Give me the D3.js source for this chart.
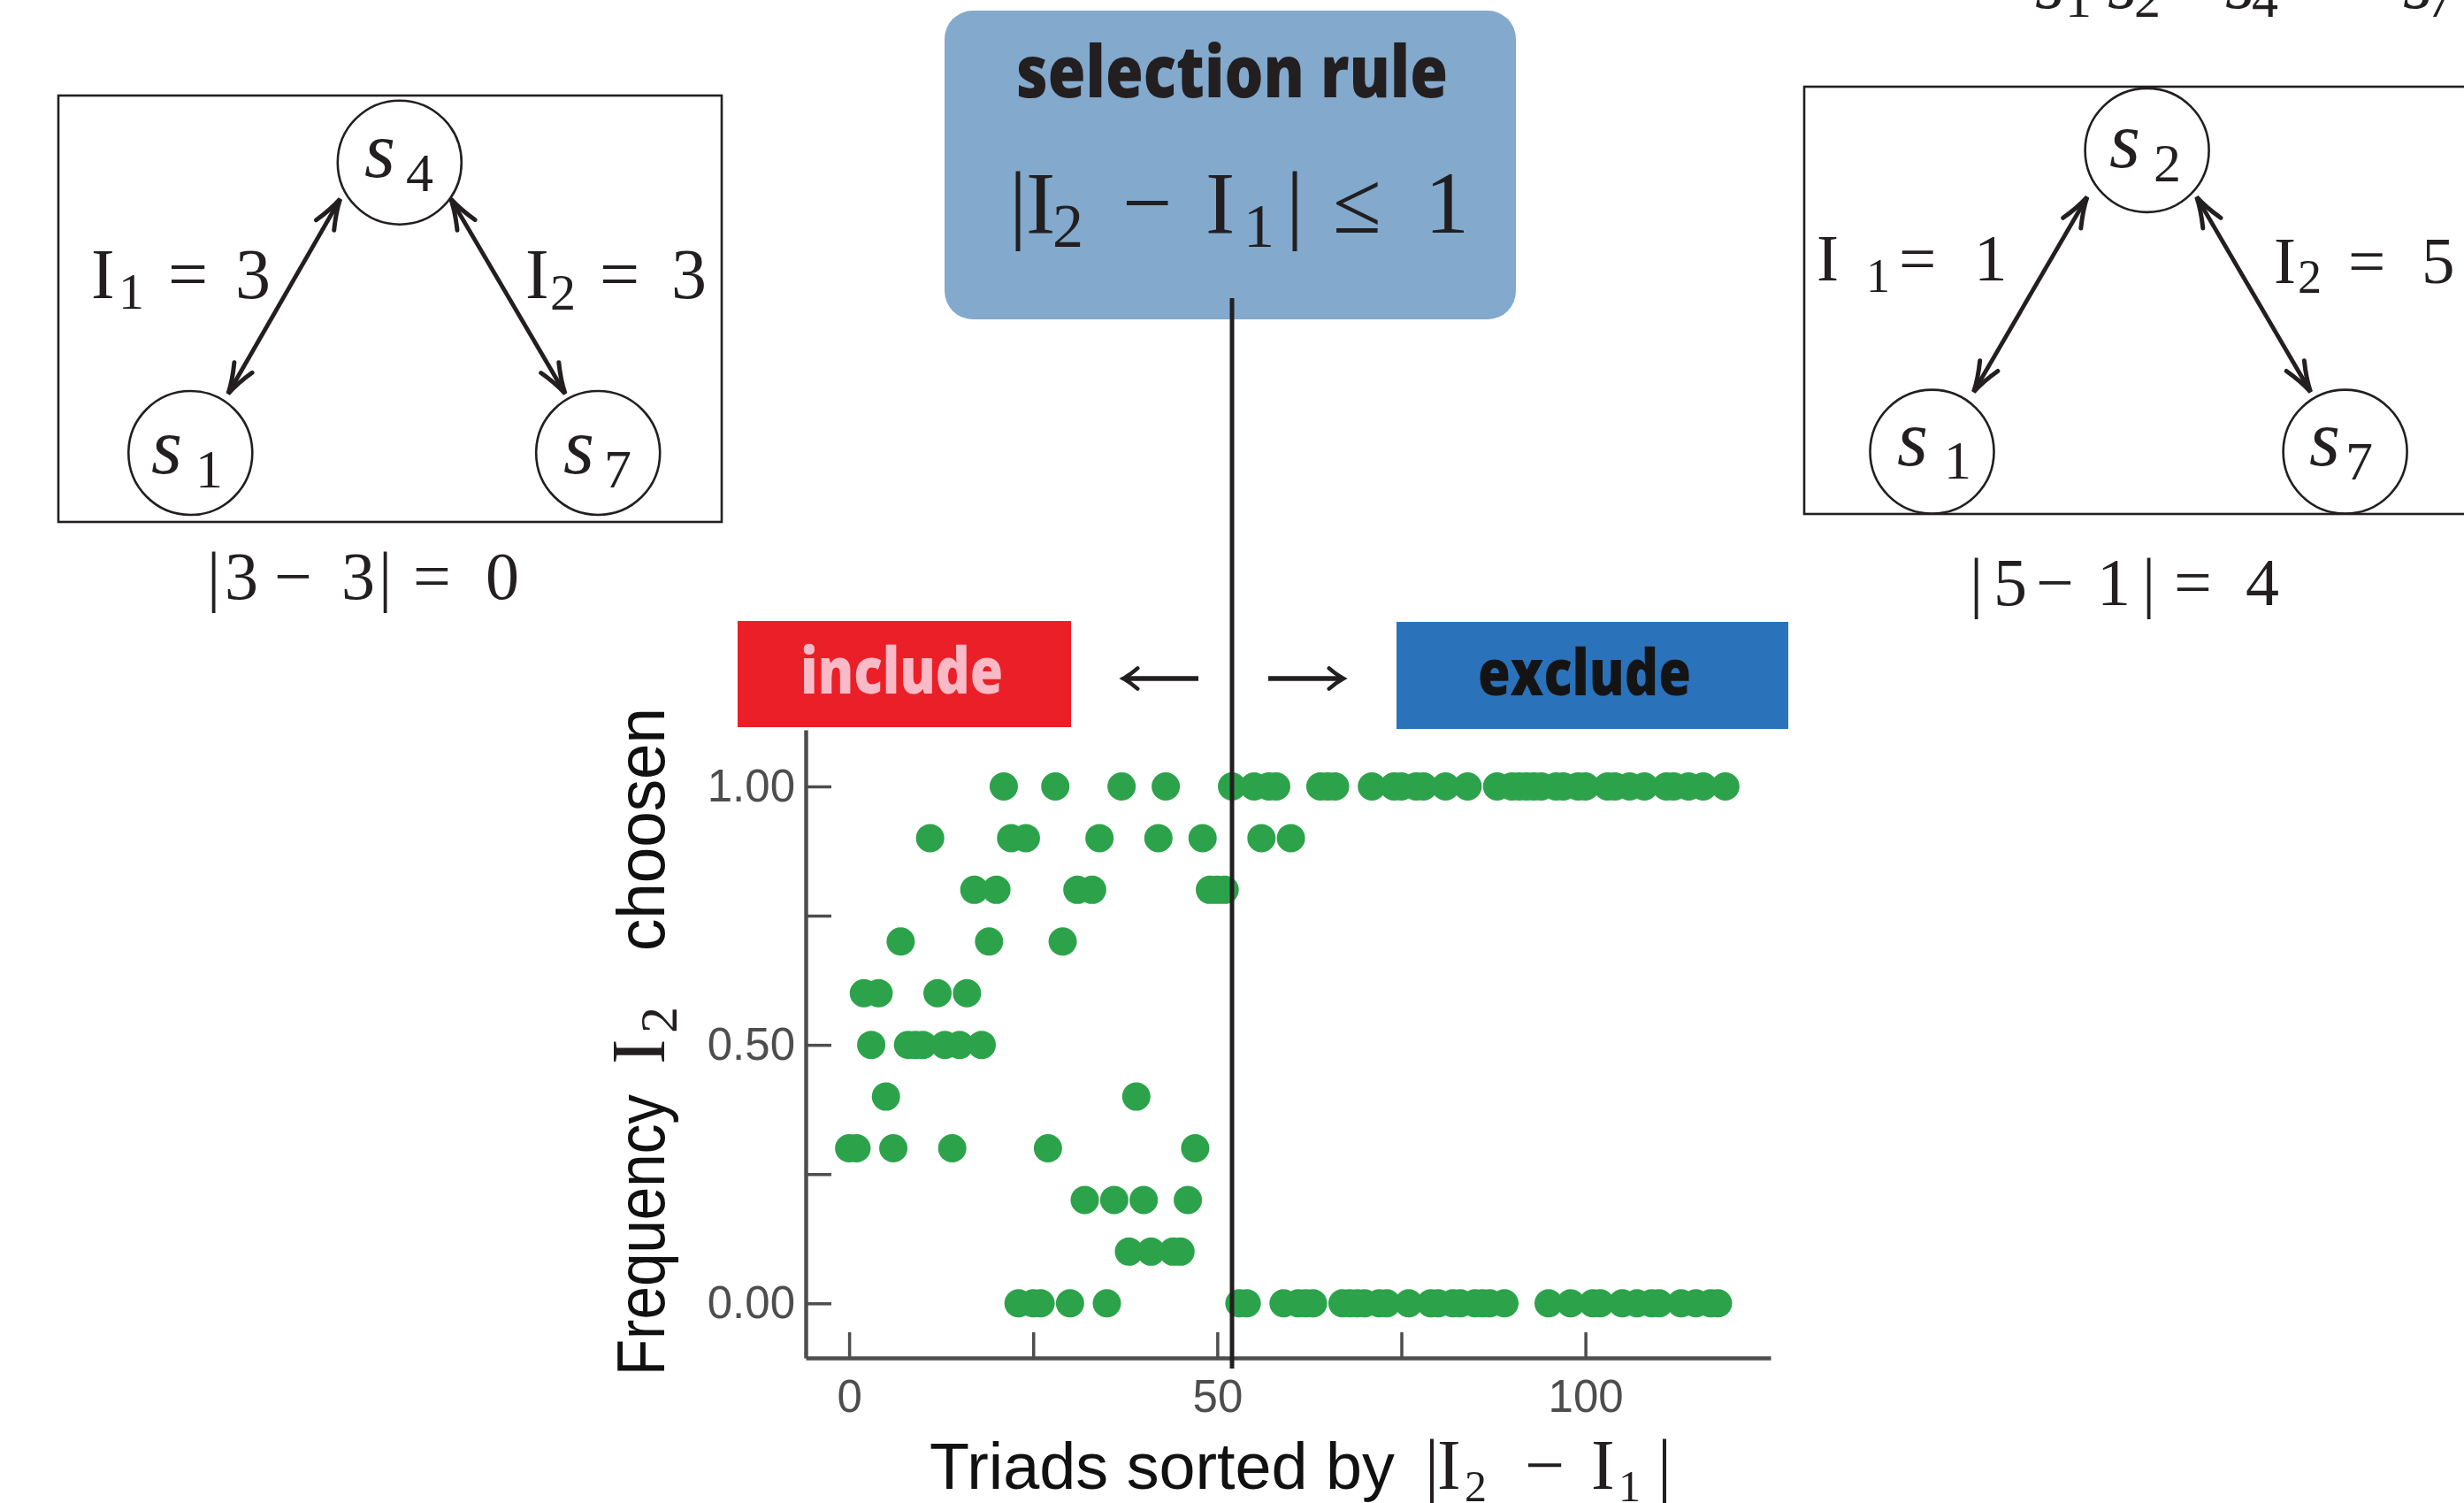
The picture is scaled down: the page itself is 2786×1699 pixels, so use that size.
<!DOCTYPE html>
<html>
<head>
<meta charset="utf-8">
<script src="https://cdn.jsdelivr.net/npm/d3@7"></script>
<style>
  html, body { margin: 0; padding: 0; background: #ffffff; }
  svg { display: block; }
</style>
</head>
<body>
<svg id="fig" width="2786" height="1699"></svg>
<script>
// Frequency with which I2 was chosen, one value per triad, triads sorted by |I2 - I1|
const triadFrequency = [
  0.3, 0.3, 0.6, 0.5, 0.6, 0.4, 0.3, 0.7, 0.5, 0.5,   // 0-9
  0.5, 0.9, 0.6, 0.5, 0.3, 0.5, 0.6, 0.8, 0.5, 0.7,   // 10-19
  0.8, 1.0, 0.9, 0.0, 0.9, 0.0, 0.0, 0.3, 1.0, 0.7,   // 20-29
  0.0, 0.8, 0.2, 0.8, 0.9, 0.0, 0.2, 1.0, 0.1, 0.4,   // 30-39
  0.2, 0.1, 0.9, 1.0, 0.1, 0.1, 0.2, 0.3, 0.9, 0.8,   // 40-49
  0.8, 0.8, 1.0, 0.0, 0.0, 1.0, 0.9, 1.0, 1.0, 0.0,   // 50-59
  0.9, 0.0, 0.0, 0.0, 1.0, 1.0, 1.0, 0.0, 0.0, 0.0,   // 60-69
  0.0, 1.0, 0.0, 0.0, 1.0, 1.0, 0.0, 1.0, 1.0, 0.0,   // 70-79
  0.0, 1.0, 0.0, 0.0, 1.0, 0.0, 0.0, 0.0, 1.0, 0.0,   // 80-89
  1.0, 1.0, 1.0, 1.0, 1.0, 0.0, 1.0, 1.0, 0.0, 1.0,   // 90-99
  1.0, 0.0, 0.0, 1.0, 1.0, 0.0, 1.0, 0.0, 1.0, 0.0,   // 100-109
  0.0, 1.0, 1.0, 0.0, 1.0, 0.0, 1.0, 0.0, 0.0, 1.0    // 110-119
];
// Position of the selection-rule cut along the sorted triads
const cutoffIndex = 52;

const xTickValues = [0, 25, 50, 75, 100];
const xTickLabels = { 0: "0", 50: "50", 100: "100" };
const yTickValues = [0, 0.25, 0.5, 0.75, 1.0];
const yTickLabels = { 0: "0.00", 0.5: "0.50", 1: "1.00" };

const ink = "#231f20";
const serif = "'Liberation Serif', 'DejaVu Serif', serif";
const sans = "'Liberation Sans', Arial, sans-serif";
const heavy = "'Open Sans', 'Liberation Sans', sans-serif";

const svg = d3.select("#fig");
svg.append("rect").attr("width", 2786).attr("height", 1699).attr("fill", "#ffffff");

// ---------- small helpers ----------
function put(g, x, y, txt, size, opts = {}) {
  const t = g.append("text")
    .attr("x", x).attr("y", y)
    .attr("font-family", opts.family || serif)
    .attr("font-size", size)
    .attr("fill", opts.fill || ink)
    .text(txt);
  if (opts.italic) t.attr("font-style", "italic");
  if (opts.weight) t.attr("font-weight", opts.weight);
  if (opts.anchor) t.attr("text-anchor", opts.anchor);
  if (opts.length) t.attr("textLength", opts.length).attr("lengthAdjust", "spacingAndGlyphs");
  return t;
}

function barbs(g, tx, ty, angle, len, spread, width) {
  // open arrow head with its tip at (tx, ty) pointing along angle
  const a1 = angle + Math.PI - spread, a2 = angle + Math.PI + spread;
  const p = d3.path();
  p.moveTo(tx + len * Math.cos(a1), ty + len * Math.sin(a1));
  p.quadraticCurveTo(tx + 0.45 * len * Math.cos(a1 + 0.12), ty + 0.45 * len * Math.sin(a1 + 0.12), tx, ty);
  p.quadraticCurveTo(tx + 0.45 * len * Math.cos(a2 - 0.12), ty + 0.45 * len * Math.sin(a2 - 0.12),
                     tx + len * Math.cos(a2), ty + len * Math.sin(a2));
  g.append("path").attr("d", p.toString()).attr("fill", "none")
    .attr("stroke", ink).attr("stroke-width", width).attr("stroke-linecap", "round");
}

function doubleArrow(g, x1, y1, x2, y2) {
  g.append("line").attr("x1", x1).attr("y1", y1).attr("x2", x2).attr("y2", y2)
    .attr("stroke", ink).attr("stroke-width", 4.8);
  const ang = Math.atan2(y2 - y1, x2 - x1);
  barbs(g, x2, y2, ang, 36, 0.33, 5);
  barbs(g, x1, y1, ang + Math.PI, 36, 0.33, 5);
}

function node(g, cx, cy, idx, sx, sy, dx, dy) {
  g.append("circle").attr("cx", cx).attr("cy", cy).attr("r", 70)
    .attr("fill", "none").attr("stroke", ink).attr("stroke-width", 2.6);
  put(g, sx, sy, "s", 90, { italic: true });
  put(g, dx, dy, idx, 62);
}

// ---------- left example triad ----------
const left = svg.append("g");
left.append("rect").attr("x", 66).attr("y", 108).attr("width", 750).attr("height", 482)
  .attr("fill", "none").attr("stroke", ink).attr("stroke-width", 2.6);
node(left, 451.8, 183.7, "4", 412, 200, 459, 216);
node(left, 215.3, 512, "1", 171, 535, 221, 551);
node(left, 676.2, 512, "7", 637, 535, 683, 551);
doubleArrow(left, 258, 445, 384.6, 225);
doubleArrow(left, 509.8, 225, 639, 445);
put(left, 103, 337, "I", 80); put(left, 134, 349, "1", 58);
put(left, 190, 337, "=", 80); put(left, 266, 337, "3", 80);
put(left, 594, 337, "I", 80); put(left, 622, 350, "2", 58);
put(left, 678, 337, "=", 80); put(left, 759, 337, "3", 80);
[["|", 234], ["3", 254], ["\u2212", 310], ["3", 386], ["|", 428], ["=", 467], ["0", 549]]
  .forEach(([t, x]) => put(left, x, 677, t, 76));

// ---------- right example triad ----------
const right = svg.append("g");
right.append("rect").attr("x", 2040).attr("y", 98).attr("width", 800).attr("height", 483)
  .attr("fill", "none").attr("stroke", ink).attr("stroke-width", 2.6);
node(right, 2427.6, 169.9, "2", 2385, 189, 2435, 205);
node(right, 2184.5, 510.6, "1", 2145, 526, 2198, 541);
node(right, 2651.6, 510.6, "7", 2611, 526, 2652, 542);
doubleArrow(right, 2231.6, 443, 2359.9, 222.7);
doubleArrow(right, 2483.7, 222.7, 2612.5, 443);
put(right, 2054, 317, "I", 75); put(right, 2110, 330, "1", 54);
put(right, 2147, 317, "=", 75); put(right, 2232, 317, "1", 75);
put(right, 2571, 320, "I", 75); put(right, 2598, 331, "2", 54);
put(right, 2655, 320, "=", 75); put(right, 2738, 320, "5", 75);
[["|", 2227], ["5", 2254], ["\u2212", 2302], ["1", 2371], ["|", 2422], ["=", 2458], ["4", 2539]]
  .forEach(([t, x]) => put(right, x, 684, t, 76));
// node sequence running off the top edge
[["1", 2301, 2335], ["2", 2383, 2413], ["4", 2516, 2546], ["7", 2717, 2744]].forEach(([d, sx, dx]) => {
  put(right, sx, 9, "s", 86, { italic: true });
  put(right, dx, 19, d, 60);
});

// ---------- selection rule box ----------
const rule = svg.append("g");
rule.append("rect").attr("x", 1068).attr("y", 12).attr("width", 646).attr("height", 349)
  .attr("rx", 32).attr("fill", "#83a9cd");
put(rule, 1393, 110, "selection rule", 82, { family: heavy, weight: 800, anchor: "middle", length: 488 });
put(rule, 1141, 263, "|", 100); put(rule, 1160, 263, "I", 100); put(rule, 1190, 279, "2", 70);
put(rule, 1269, 263, "\u2212", 100); put(rule, 1363, 263, "I", 100); put(rule, 1406, 279, "1", 70);
put(rule, 1454, 263, "|", 100); put(rule, 1507, 263, "\u2264", 100); put(rule, 1611, 263, "1", 100);

// ---------- include / exclude tags ----------
const tags = svg.append("g");
tags.append("rect").attr("x", 834).attr("y", 702).attr("width", 377).attr("height", 120).attr("fill", "#eb1f27");
put(tags, 905, 784, "include", 72, { family: heavy, weight: 800, fill: "#f8bac6", length: 229 });
tags.append("rect").attr("x", 1579).attr("y", 703).attr("width", 443).attr("height", 121).attr("fill", "#2a73ba");
put(tags, 1671, 786, "exclude", 72, { family: heavy, weight: 800, fill: "#141414", length: 241 });
tags.append("line").attr("x1", 1272).attr("x2", 1355).attr("y1", 767).attr("y2", 767)
  .attr("stroke", ink).attr("stroke-width", 5.5);
barbs(tags, 1270, 767, Math.PI, 20, 0.62, 4.5);
tags.append("line").attr("x1", 1434).attr("x2", 1517).attr("y1", 767).attr("y2", 767)
  .attr("stroke", ink).attr("stroke-width", 5.5);
barbs(tags, 1519, 767, 0, 20, 0.62, 4.5);

// ---------- scatter of choice frequencies ----------
const x = d3.scaleLinear().domain([-5.9, 125.15]).range([911, 2002]);
const y = d3.scaleLinear().domain([-0.1056, 1.1095]).range([1535, 825]);
const axisColor = "#4d4d4d";

const plot = svg.append("g");

const yAxis = plot.append("g").attr("transform", `translate(${x.range()[0]},0)`)
  .call(d3.axisLeft(y).tickValues(yTickValues).tickSizeInner(-29).tickSizeOuter(0).tickPadding(12)
    .tickFormat(v => yTickLabels[v] || ""));
const xAxis = plot.append("g").attr("transform", `translate(0,${y.range()[0]})`)
  .call(d3.axisBottom(x).tickValues(xTickValues).tickSizeInner(-29).tickSizeOuter(0).tickPadding(25)
    .tickFormat(v => xTickLabels[v] || ""));

[yAxis, xAxis].forEach(a => {
  a.select(".domain").attr("stroke", axisColor).attr("stroke-width", 4.5);
  a.selectAll(".tick line").attr("stroke", axisColor).attr("stroke-width", 3.5);
  a.selectAll(".tick text").attr("fill", axisColor).attr("font-family", sans).attr("font-size", 51);
});

plot.append("g").selectAll("circle")
  .data(triadFrequency)
  .join("circle")
  .attr("cx", (d, i) => x(i))
  .attr("cy", d => y(d))
  .attr("r", 16)
  .attr("fill", "#2ca34a");

// selection threshold, running up into the rule box
plot.append("line")
  .attr("x1", x(cutoffIndex)).attr("x2", x(cutoffIndex))
  .attr("y1", 337).attr("y2", 1547)
  .attr("stroke", ink).attr("stroke-width", 5);

// axis titles
put(plot, 1051, 1683, "Triads sorted by", 74, { family: sans, fill: "#111111", length: 526 });
put(plot, 1611, 1683, "|", 80); put(plot, 1625, 1683, "I", 80); put(plot, 1656, 1697, "2", 50);
put(plot, 1724, 1683, "\u2212", 80); put(plot, 1799, 1683, "I", 80); put(plot, 1830, 1697, "1", 50);
put(plot, 1874, 1683, "|", 80);

const ylab = plot.append("g").attr("transform", "translate(751,0) rotate(-90)");
put(ylab, -1555, 0, "Frequency", 76, { family: sans, fill: "#111111", length: 318 });
put(ylab, -1203, 0, "I", 86);
put(ylab, -1168, 14, "2", 60);
put(ylab, -1075, 0, "choosen", 76, { family: sans, fill: "#111111", length: 275 });
</script>
</body>
</html>
